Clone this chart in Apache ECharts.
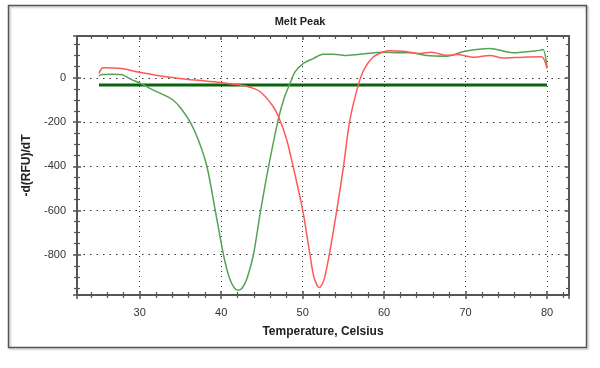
<!DOCTYPE html>
<html>
<head>
<meta charset="utf-8">
<script src="https://cdn.jsdelivr.net/npm/echarts@6/dist/echarts.min.js"></script>
<style>
html,body{margin:0;padding:0;background:#fff;}
#chart{width:600px;height:368px;}
</style>
</head>
<body>
<div id="chart"></div>
<script>
// Temperature (°C) samples and -d(RFU)/dT values
const greenT = [25.0, 25.4, 26.5, 27.7, 29.0, 30.1, 31.5, 33.0, 34.0, 35.0, 36.2, 37.2, 38.25, 39.26, 40.28, 41.0, 41.6, 42.1, 42.6, 43.2, 43.96, 44.8, 45.8, 47.0, 47.7, 48.37, 49.07, 50.1, 51.3, 52.5, 53.8, 55.2, 57.0, 59.9, 61.9, 63.2, 65.2, 67.7, 69.9, 73.0, 75.8, 79.1, 79.5, 80.0];
const greenV = [9, 15, 16, 15, -8, -25, -52, -78, -98, -135, -200, -281, -401, -597, -800, -904, -949, -961, -949, -904, -800, -610, -405, -190, -95, -33, 27, 65, 87, 107, 107, 101, 107, 116, 113, 113, 101, 98, 120, 133, 113, 124, 128, 50];

const redT = [25.0, 25.5, 27.7, 30.1, 32.0, 33.75, 36.0, 38.0, 39.9, 42.3, 43.55, 44.8, 46.4, 47.2, 48.05, 48.86, 50.0, 50.9, 51.4, 52.05, 52.6, 53.27, 54.2, 55.0, 55.8, 56.83, 57.6, 58.7, 59.9, 60.7, 62.3, 64.4, 65.8, 67.7, 68.9, 71.1, 73.0, 74.6, 77.0, 79.3, 80.0];
const redV = [20, 45, 42, 24, 12, 2, -8, -14, -21, -33, -43, -63, -131, -191, -281, -405, -597, -800, -903, -948, -916, -800, -597, -405, -191, -33, 42, 95, 117, 122, 120, 110, 116, 102, 105, 93, 101, 89, 93, 95, 42];

const thresholdT = [25, 80];
const thresholdV = [-33, -33];

const xTicks = [30, 40, 50, 60, 70, 80];
const yTicks = [-800, -600, -400, -200, 0];

const xMin = 22.3, xMax = 82.7;
const yMin = -982, yMax = 189;

function pairs(xs, ys) { return xs.map((x, i) => [x, ys[i]]); }

const axisColor = '#555';
const font = '"Liberation Sans", Arial, sans-serif';

const chart = echarts.init(document.getElementById('chart'), null, {renderer: 'canvas'});

function frameX(position, inside, extra) {
  return Object.assign({
    type: 'value', min: xMin, max: xMax, position: position,
    axisLine: {show: true, onZero: false, lineStyle: {color: axisColor, width: 2}},
    axisTick: {show: true, inside: inside, length: 4, lineStyle: {color: axisColor, width: 1.5}},
    minorTick: {show: true, splitNumber: 5, length: 3, lineStyle: {color: axisColor, width: 1.2}},
    axisLabel: {show: false},
    splitLine: {show: false}
  }, extra || {});
}
function frameY(position, inside, extra) {
  return Object.assign({
    type: 'value', min: yMin, max: yMax, position: position,
    axisLine: {show: true, onZero: false, lineStyle: {color: axisColor, width: 2}},
    axisTick: {show: true, inside: inside, length: 4, lineStyle: {color: axisColor, width: 1.5}},
    minorTick: {show: true, splitNumber: 4, length: 3, lineStyle: {color: axisColor, width: 1.2}},
    axisLabel: {show: false},
    splitLine: {show: false}
  }, extra || {});
}

const option = {
  animation: false,
  backgroundColor: '#fff',
  title: {
    text: 'Melt Peak', left: 'center', top: 11,
    textStyle: {fontFamily: font, fontSize: 11, fontWeight: 'bold', color: '#222'}
  },
  graphic: [{
    type: 'rect', shape: {x: 8.5, y: 5.5, width: 578, height: 342},
    style: {fill: 'none', stroke: '#555', lineWidth: 1.5, shadowColor: 'rgba(0,0,0,0.25)', shadowBlur: 2, shadowOffsetX: 1.5, shadowOffsetY: 1.5}, silent: true, z: 0
  }],
  grid: {left: 77, top: 36, right: 31, bottom: 73, containLabel: false},
  xAxis: [
    frameX('bottom', false, {
      name: 'Temperature, Celsius', nameLocation: 'middle', nameGap: 31,
      nameTextStyle: {fontFamily: font, fontSize: 12, fontWeight: 'bold', color: '#222'},
      axisLabel: {show: true, margin: 12, fontFamily: font, fontSize: 11, color: '#333',
        formatter: v => xTicks.includes(Math.round(v * 1000) / 1000) ? String(v) : ''},
      splitLine: {show: true, lineStyle: {color: '#333', width: 1, type: [1, 4]}}
    }),
    frameX('bottom', true),
    frameX('top', true)
  ],
  yAxis: [
    frameY('left', false, {
      name: '-d(RFU)/dT', nameLocation: 'middle', nameGap: 34, nameRotate: 90,
      nameTextStyle: {fontFamily: font, fontSize: 12, fontWeight: 'bold', color: '#222'},
      axisLabel: {show: true, margin: 11, fontFamily: font, fontSize: 11, color: '#333',
        formatter: v => yTicks.includes(Math.round(v)) ? String(v) : ''},
      splitLine: {show: true, lineStyle: {color: '#333', width: 1, type: [1.5, 5]}}
    }),
    frameY('left', true),
    frameY('right', true)
  ],
  series: [
    {type: 'line', name: 'threshold', data: pairs(thresholdT, thresholdV), symbol: 'none',
      lineStyle: {color: '#0a650a', width: 3}, z: 2},
    {type: 'line', name: 'green', data: pairs(greenT, greenV), symbol: 'none', smooth: 0.3,
      lineStyle: {color: '#55a255', width: 1.5}, z: 3},
    {type: 'line', name: 'red', data: pairs(redT, redV), symbol: 'none', smooth: 0.3,
      lineStyle: {color: '#ff5858', width: 1.5}, z: 4}
  ]
};
chart.setOption(option);
</script>
</body>
</html>
